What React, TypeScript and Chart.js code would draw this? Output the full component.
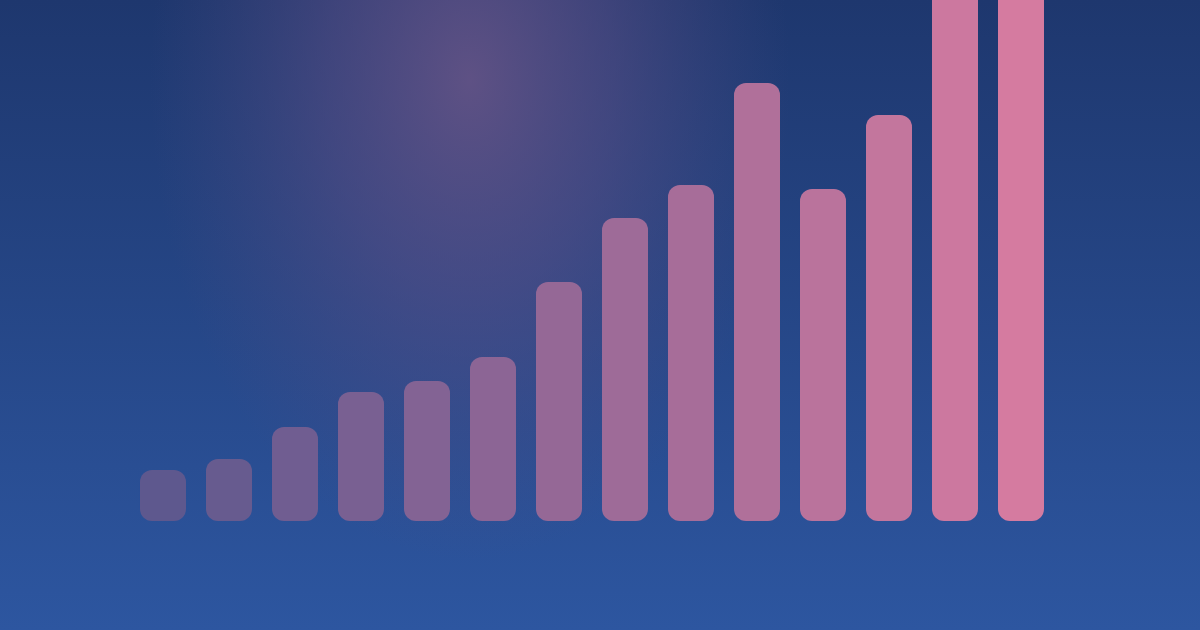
import React, { useEffect, useRef } from "react";
import { Chart, registerables } from "chart.js";

Chart.register(...registerables);

const categories = ["1", "2", "3", "4", "5", "6", "7", "8", "9", "10", "11", "12", "13", "14"];
const values = [51, 62, 94, 129, 140, 164, 239, 303, 336, 438, 332, 406, 560, 610];
const barColors = [
  "rgb(94,88,142)", "rgb(103,91,143)", "rgb(112,93,145)", "rgb(121,96,146)",
  "rgb(131,99,148)", "rgb(140,101,149)", "rgb(149,104,150)", "rgb(158,107,152)",
  "rgb(167,109,153)", "rgb(176,112,154)", "rgb(186,115,156)", "rgb(195,118,157)",
  "rgb(204,120,159)", "rgb(213,123,160)",
];

const backgroundPlugin = {
  id: "bg",
  beforeDraw(chart: any) {
    const { ctx, width, height } = chart;
    ctx.save();
    const lg = ctx.createLinearGradient(0, 0, 0, height);
    lg.addColorStop(0, "rgb(30,55,110)");
    lg.addColorStop(1, "rgb(45,86,160)");
    ctx.fillStyle = lg;
    ctx.fillRect(0, 0, width, height);
    ctx.translate(470, 80);
    ctx.scale(1, 1.5);
    const rg = ctx.createRadialGradient(0, 0, 0, 0, 0, 320);
    rg.addColorStop(0, "rgba(105,85,135,0.85)");
    rg.addColorStop(0.45, "rgba(95,80,135,0.5)");
    rg.addColorStop(1, "rgba(80,75,130,0)");
    ctx.fillStyle = rg;
    ctx.fillRect(-600, -400, 1200, 900);
    ctx.restore();
  },
};

export default function App() {
  const ref = useRef<HTMLCanvasElement>(null);
  useEffect(() => {
    document.body.style.margin = "0";
    const chart = new Chart(ref.current!, {
      type: "bar",
      data: {
        labels: categories,
        datasets: [
          {
            data: values,
            backgroundColor: barColors,
            borderRadius: 12,
            borderSkipped: false,
            barPercentage: 0.697,
            categoryPercentage: 1,
          },
        ],
      },
      options: {
        animation: false,
        responsive: false,
        layout: { padding: { left: 130, right: 146, top: 0, bottom: 109 } },
        plugins: { legend: { display: false }, tooltip: { enabled: false } },
        scales: {
          x: { display: false },
          y: { display: false, min: 0, max: 521 },
        },
      },
      plugins: [backgroundPlugin],
    });
    return () => chart.destroy();
  }, []);
  return (
    <div style={{ position: "fixed", left: 0, top: 0, width: 1200, height: 630 }}>
      <canvas ref={ref} width={1200} height={630} style={{ width: 1200, height: 630, display: "block" }} />
    </div>
  );
}
